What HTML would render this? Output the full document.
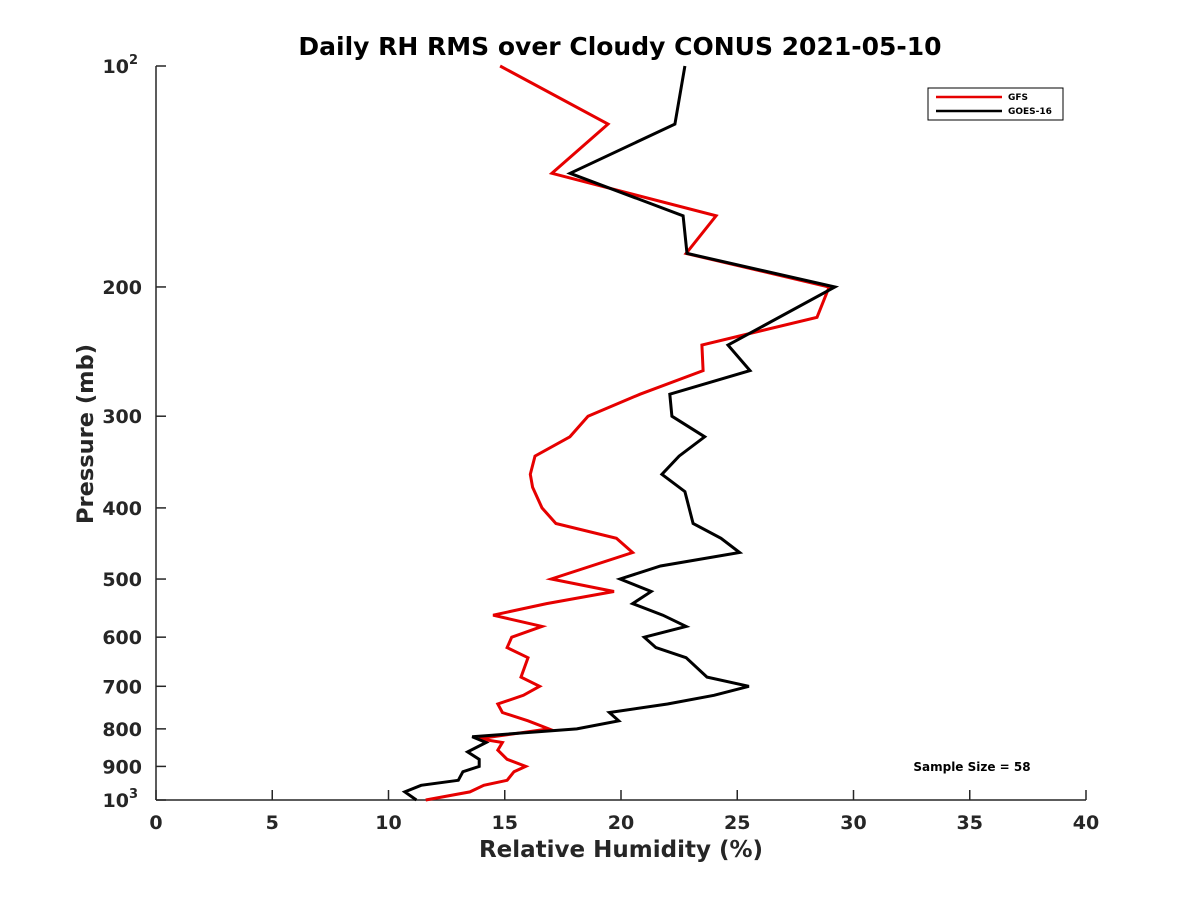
<!DOCTYPE html>
<html><head><meta charset="utf-8"><style>
body{margin:0;background:#fff}
svg text{font-family:"DejaVu Sans","Liberation Sans",sans-serif;font-weight:bold;fill:#262626}
</style></head><body>
<svg id="c" width="1200" height="900" viewBox="0 0 1200 900" xmlns="http://www.w3.org/2000/svg">
<rect width="1200" height="900" fill="#fff"/>
<text x="620" y="55" font-size="25" text-anchor="middle" style="fill:#000">Daily RH RMS over Cloudy CONUS 2021-05-10</text>
<g id="axes"></g>
<g id="series"></g>
<text x="621" y="857" font-size="23" text-anchor="middle">Relative Humidity (%)</text>
<text transform="translate(93,434) rotate(-90)" font-size="22.5" text-anchor="middle">Pressure (mb)</text>
<text x="972" y="771" font-size="12" text-anchor="middle" style="fill:#000">Sample Size = 58</text>
<g>
<rect x="928" y="88" width="135" height="32" fill="#fff" stroke="#000" stroke-width="1"/>
<line x1="936" y1="97" x2="1002" y2="97" stroke="#e60000" stroke-width="2.5"/>
<text x="1008" y="100" font-size="9" style="fill:#000">GFS</text>
<line x1="936" y1="111" x2="1002" y2="111" stroke="#000" stroke-width="2.5"/>
<text x="1008" y="114" font-size="9" style="fill:#000">GOES-16</text>
</g>
</svg>
<script>
const gfsP=[100,120,140,160,180,200,220,240,260,280,300,320,340,360,375,400,420,440,460,500,520,540,560,580,600,620,640,680,700,720,740,760,780,800,825,835,855,880,900,915,940,955,975,1000];
const gfsV=[14.8,19.44,17.03,24.09,22.8,28.95,28.43,23.48,23.53,20.82,18.58,17.8,16.3,16.1,16.2,16.6,17.2,19.8,20.5,17.0,19.7,16.8,14.5,16.6,15.3,15.1,16.0,15.7,16.5,15.8,14.7,14.9,16.0,16.9,13.9,14.9,14.7,15.1,15.9,15.4,15.1,14.1,13.5,11.6];
const goesP=[100,120,140,160,180,200,240,260,280,300,320,340,360,380,420,440,460,480,500,520,540,560,580,600,620,640,680,700,720,740,760,780,800,820,835,860,880,900,915,940,955,975,1000];
const goesV=[22.75,22.32,17.81,22.67,22.84,29.2,24.6,25.55,22.1,22.19,23.6,22.5,21.76,22.75,23.1,24.3,25.1,21.7,19.96,21.3,20.5,21.8,22.8,21.0,21.5,22.8,23.7,25.5,24.0,22.0,19.5,19.9,18.1,13.6,14.2,13.4,13.9,13.9,13.2,13.0,11.4,10.7,11.2];
const xTicks=[0,5,10,15,20,25,30,35,40];
const yTicks=[100,200,300,400,500,600,700,800,900,1000];
const yTickLabels=["","200","300","400","500","600","700","800","900",""];
const NS="http://www.w3.org/2000/svg";
const X0=156,X1=1086,Y0=66,Y1=800;
const xs=v=>X0+(v-0)/(40-0)*(X1-X0);
const ys=p=>Y0+(Math.log10(p)-2)*(Y1-Y0);
function mk(t,a,par){const e=document.createElementNS(NS,t);for(const k in a)e.setAttribute(k,a[k]);par.appendChild(e);return e;}
const ax=document.getElementById('axes');
let l=mk('line',{x1:X0,y1:Y0,x2:X0,y2:Y1,stroke:'#262626','stroke-width':1.5},ax);


l=mk('line',{x1:X0,y1:Y1,x2:X1,y2:Y1,stroke:'#262626','stroke-width':1.5},ax);


xTicks.forEach(v=>{
 const t=mk('line',{x1:xs(v),y1:Y1,x2:xs(v),y2:Y1-10,stroke:'#262626','stroke-width':1.5},ax);
 
 
 const tx=mk('text',{x:xs(v),y:Y1+29,'font-size':19,'text-anchor':'middle'},ax);
 
 
 tx.textContent=v;
});
yTicks.forEach((p,i)=>{
 const t=mk('line',{x1:X0,y1:ys(p),x2:X0+10,y2:ys(p),stroke:'#262626','stroke-width':1.5},ax);
 
 
 const tx=mk('text',{x:142,y:ys(p)+7,'font-size':19,'text-anchor':'end'},ax);
 
 
 if(p===100||p===1000){
  tx.textContent='10';
  const s=mk('tspan',{dy:-9,'font-size':13},tx);s.textContent=(p===100?'2':'3');
  tx.setAttribute('x',138);
 } else tx.textContent=yTickLabels[i];
});
const sg=document.getElementById('series');
function line(P,V,col,name){
 const pts=P.map((p,i)=>xs(V[i]).toFixed(1)+','+ys(p).toFixed(1)).join(' ');
 const e=mk('polyline',{points:pts,fill:'none',stroke:col,'stroke-width':3,'stroke-linejoin':'miter'},sg);
 
 
}
line(gfsP,gfsV,'#e60000','gfs-line');
line(goesP,goesV,'#000000','goes16-line');
</script>
</body></html>
